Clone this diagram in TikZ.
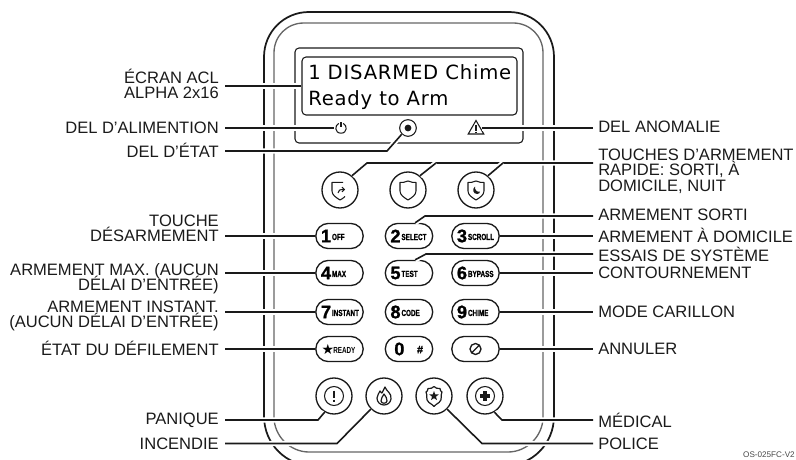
\documentclass[tikz,border=0pt]{standalone}
\usepackage{fontspec}
\setmainfont{Liberation Sans}
\newfontfamily\lcdfont[LetterSpace=4]{DejaVu Sans}
\newfontfamily\symfont{DejaVu Sans}
\newfontfamily\keyb[FakeBold=1.2]{Liberation Sans Bold}
\usetikzlibrary{shapes.geometric,calc}
\definecolor{ink}{HTML}{1A1A1A}
\definecolor{shellgray}{HTML}{666666}
\newcommand{\tightlines}{\lineskiplimit=-20pt\relax}
\tikzset{
 lbl/.style={font=\fontsize{12.4pt}{11.6pt}\selectfont\tightlines,text=ink,inner ysep=0pt},
 lblL/.style={lbl,anchor=east,align=right,inner xsep=4.5pt},
 lblR/.style={lbl,anchor=west,align=left,inner xsep=3.75pt},
 leader/.style={draw=ink,line width=1.2pt,line cap=butt,line join=miter,preaction={draw=white,line width=4pt}},
 keybox/.style={draw=ink,line width=1pt,rounded corners=9.3pt,minimum width=35.5pt,minimum height=18.8pt,inner sep=0pt,fill=white},
 rbtn/.style={draw=ink,line width=1pt,circle,minimum size=27pt,inner sep=0pt,fill=white},
 icon/.style={draw=ink,line width=.8pt,line join=round},
}
\newcommand{\keytxt}[2]{\makebox[33pt][l]{\hspace{2.6pt}\fontsize{13.6pt}{13pt}\keyb\selectfont #1\hspace{.7pt}\raisebox{1.7pt}{\fontsize{6.6pt}{6.6pt}\selectfont\bfseries\scalebox{.72}[1]{#2}}}}
\begin{document}
\begin{tikzpicture}[x=.75pt,y=-.75pt]
\useasboundingbox (0,0) rectangle (796,460);
\begin{scope}
\clip (0,0) rectangle (796,460);
% shells
\draw[ink,line width=1.3pt] (264,57) .. controls (264,32) and (284,12) .. (309,12) -- (509,12) .. controls (534,12) and (554,32) .. (554,57) -- (554,416) .. controls (554,444) and (532,466) .. (504,466) -- (314,466) .. controls (286,466) and (264,444) .. (264,416) -- cycle;
\draw[shellgray,line width=1pt] (274,53) .. controls (274,36) and (287,23) .. (304,23) -- (513,23) .. controls (530,23) and (543,36) .. (543,53) -- (543,417) .. controls (543,436) and (527,452) .. (508,452) -- (309,452) .. controls (290,452) and (274,436) .. (274,417) -- cycle;
\end{scope}
% display
\draw[ink,line width=.8pt,rounded corners=3pt] (295,48) rectangle (523,143);
\node[draw=ink,line width=.8pt,rounded corners=3pt,minimum width=161.25pt,minimum height=43.5pt,inner sep=0pt,fill=white] (lcd) at (409.5,86) {};
\node[anchor=base west,inner sep=0pt,font=\lcdfont\fontsize{14.7pt}{14pt}\selectfont] (lcd1) at (308,79.5) {1 DISARMED Chime};
\node[anchor=base west,inner sep=0pt,font=\lcdfont\fontsize{14.7pt}{14pt}\selectfont] (lcd2) at (308,106) {Ready to Arm};
% LED icons
\begin{scope}[shift={(341,128)}]
 \draw[icon] (-2.2,-4.6) .. controls (-6.5,-3) and (-6.5,5.2) .. (0,5.2) .. controls (6.5,5.2) and (6.5,-3) .. (2.2,-4.6);
 \draw[icon] (0,-6) -- (0,-1);
\end{scope}
\node[draw=ink,circle,line width=.8pt,minimum size=12.5pt,inner sep=0pt] (st) at (408,128) {};
\fill[ink] (408,128) circle[radius=3.4];
\node[draw=ink,line width=.8pt,regular polygon,regular polygon sides=3,minimum size=13.5pt,inner sep=0pt] (wr) at (476,129.5) {};
\draw[ink,line width=1pt] (476,125) -- (476,130.5) (476,131.5) -- (476,133);
% top buttons
\node[rbtn] (t1) at (340,190) {};
\node[rbtn] (t2) at (408,190) {};
\node[rbtn] (t3) at (476,190) {};
\def\shieldpath{(0,-9) .. controls (3,-7.5) and (6,-7.5) .. (8,-7.5) -- (8,1) .. controls (8,5) and (4,7.5) .. (0,10) .. controls (-4,7.5) and (-8,5) .. (-8,1) -- (-8,-7.5) .. controls (-6,-7.5) and (-3,-7.5) .. (0,-9) -- cycle}
\begin{scope}[shift={(340,190)}]
 \draw[icon] (3,-7.6) -- (-8,-7.6) -- (-8,1) .. controls (-8,5) and (-4,7.5) .. (0,10) .. controls (2,9) and (3.5,8) .. (5,6.5);
 \draw[icon] (-2,3) .. controls (-2,0) and (0,-.5) .. (4,-.5);
 \draw[icon] (2,-2.8) -- (4.5,-.5) -- (2,1.8);
\end{scope}
\begin{scope}[shift={(408,190)}]
 \draw[icon] \shieldpath;
\end{scope}
\begin{scope}[shift={(476,190)}]
 \draw[icon] \shieldpath;
 \fill[ink] (-1,-3.5) .. controls (-4,-1) and (-3,4) .. (1,4) .. controls (3,4) and (4,3) .. (4,1.5) .. controls (1,2.5) and (-1.5,0) .. (-1,-3.5) -- cycle;
\end{scope}
% keys
\node[keybox] (k1) at (339.5,236) {\keytxt{1}{OFF}};
\node[keybox] (k2) at (409,236) {\keytxt{2}{SELECT}};
\node[keybox] (k3) at (475.5,236) {\keytxt{3}{SCROLL}};
\node[keybox] (k4) at (339.5,273) {\keytxt{4}{MAX}};
\node[keybox] (k5) at (409,273) {\keytxt{5}{TEST}};
\node[keybox] (k6) at (475.5,273) {\keytxt{6}{BYPASS}};
\node[keybox] (k7) at (339.5,312) {\keytxt{7}{INSTANT}};
\node[keybox] (k8) at (409,312) {\keytxt{8}{CODE}};
\node[keybox] (k9) at (475.5,312) {\keytxt{9}{CHIME}};
\node[keybox] (ks) at (339.5,349) {\makebox[33pt][l]{\hspace{3pt}{\symfont\fontsize{10.5pt}{11pt}\selectfont ★}\hspace{-.6pt}\raisebox{.5pt}{\fontsize{6.6pt}{6.6pt}\selectfont\bfseries\scalebox{.72}[1]{READY}}}};
\node[keybox] (k0) at (409,349) {\makebox[33pt][l]{\hspace{5.5pt}\fontsize{13.6pt}{13pt}\keyb\selectfont 0\hspace{9.5pt}\raisebox{1.5pt}{\fontsize{8pt}{8pt}\selectfont\#}}};
\node[keybox] (kc) at (475.5,349) {};
\draw[ink,line width=1pt] (475.5,349) circle[radius=5.5] (471.5,353) -- (479.5,345);
% bottom buttons
\node[rbtn] (b1) at (334,396) {};
\node[rbtn] (b2) at (384,396) {};
\node[rbtn] (b3) at (434,396) {};
\node[rbtn] (b4) at (485,396) {};
\draw[icon] (334,396) circle[radius=9.5];
\draw[ink,line width=1.7pt] (334,390.5) -- (334,398) (334,399.5) -- (334,402);
\begin{scope}[shift={(384,397)}]
 \draw[icon,line width=.9pt] (1,-10) .. controls (2,-6) and (8,-4) .. (7,2) .. controls (6.5,6) and (3,8) .. (0,8) .. controls (-4,8) and (-7,5) .. (-7,1) .. controls (-7,-2) and (-5,-3) .. (-4,-6) .. controls (-3,-4) and (-2,-4) .. (-2,-4) .. controls (-1,-6) and (0,-8) .. (1,-10) -- cycle;
 \draw[icon,line width=.9pt] (0,-3) .. controls (1,0) and (4,1) .. (3,4) .. controls (2.5,7) and (-2.5,7) .. (-3,4) .. controls (-3.5,1) and (-1,0) .. (0,-3) -- cycle;
\end{scope}
\begin{scope}[shift={(434,395.5)}]
 \draw[icon,line width=.9pt] (-6,-7) .. controls (-3,-6) and (-2,-8) .. (0,-9) .. controls (2,-8) and (3,-6) .. (6,-7) .. controls (6,-5) and (7,-4) .. (8,-3.5) .. controls (6,0) and (9,4) .. (5,7) .. controls (3,9) and (1,9) .. (0,11) .. controls (-1,9) and (-3,9) .. (-5,7) .. controls (-9,4) and (-6,0) .. (-8,-3.5) .. controls (-7,-4) and (-6,-5) .. (-6,-7) -- cycle;
 \node[fill=ink,star,star points=5,star point ratio=2.4,minimum size=7.5pt,inner sep=0pt] (bstar) at (0,0.5) {};
\end{scope}
\draw[icon] (485,396) circle[radius=9.5];
\draw[ink,line width=2.6pt] (480,396) -- (490,396) (485,391) -- (485,401);
% labels left
\node[lblL] (lecran) at (225,84) {ÉCRAN ACL\\ALPHA 2x16};
\node[lblL] (lalim) at (225,128) {DEL D’ALIMENTION};
\node[lblL] (letat) at (225,150) {DEL D’ÉTAT};
\node[lblL] (ldes) at (225,228.5) {TOUCHE\\DÉSARMEMENT};
\node[lblL] (lmax) at (225,278.5) {ARMEMENT MAX. (AUCUN\\DÉLAI D’ENTRÉE)};
\node[lblL] (linst) at (225,316) {ARMEMENT INSTANT.\\(AUCUN DÉLAI D’ENTRÉE)};
\node[lblL] (ldef) at (225,348) {ÉTAT DU DÉFILEMENT};
\node[lblL] (lpan) at (225,420) {PANIQUE};
\node[lblL] (linc) at (225,444) {INCENDIE};
% labels right
\node[lblR] (ranom) at (593,127) {DEL ANOMALIE};
\node[lblR] (rtou) at (593,171) {TOUCHES D’ARMEMENT\\RAPIDE: SORTI, À\\DOMICILE, NUIT};
\node[lblR] (rsor) at (593,215) {ARMEMENT SORTI};
\node[lblR] (rdom) at (593,235) {ARMEMENT À DOMICILE};
\node[lblR] (ress) at (593,254) {ESSAIS DE SYSTÈME};
\node[lblR] (rcon) at (593,273) {CONTOURNEMENT};
\node[lblR] (rcar) at (593,312) {MODE CARILLON};
\node[lblR] (rann) at (593,349) {ANNULER};
\node[lblR] (rmed) at (593,420) {MÉDICAL};
\node[lblR] (rpol) at (593,444) {POLICE};
\node[anchor=east,inner sep=0pt,font=\fontsize{6.1pt}{6pt}\selectfont,text=ink!80] (ref) at (795,455) {OS-025FC-V2};
% coordinates
\coordinate (cst) at (387,151);
\coordinate (ct) at (367,163);
\coordinate (ct2) at (436,163);
\coordinate (ct3) at (503,163);
\coordinate (c2) at (425,216);
\coordinate (c5) at (426,254);
\coordinate (cp) at (318,420);
\coordinate (ci) at (337,443.5);
\coordinate (cpo) at (482,443.5);
\coordinate (cm) at (502,420);
% leaders
\draw[leader] (lecran.east |- lcd.west) -- (lcd.west);
\draw[leader] (lalim.east) -- (334,128);
\draw[leader] (letat.east |- cst) -- (cst) -- (st.225);
\draw[leader] (wr.east |- 0,128) -- (ranom.west |- 0,128);
\draw[leader] (t1.50) -- (ct) -- (ct -| rtou.west);
\draw[leader] (t2.50) -- (ct2);
\draw[leader] (t3.50) -- (ct3);
\draw[leader] (k1.west) -- (k1.west -| ldes.east);
\draw[leader] (k4.west) -- (k4.west -| lmax.east);
\draw[leader] (k7.west) -- (k7.west -| linst.east);
\draw[leader] (ks.west) -- (ks.west -| ldef.east);
\draw[leader] (k2.65) -- (c2) -- (c2 -| rsor.west);
\draw[leader] (k3.east) -- (k3.east -| rdom.west);
\draw[leader] (k5.65) -- (c5) -- (c5 -| ress.west);
\draw[leader] (k6.east) -- (rcon.west);
\draw[leader] (k9.east) -- (rcar.west);
\draw[leader] (kc.east) -- (rann.west);
\draw[leader] (lpan.east) -- (cp) -- (b1.240);
\draw[leader] (linc.east |- ci) -- (ci) -- (b2.225);
\draw[leader] (rpol.west |- cpo) -- (cpo) -- (b3.315);
\draw[leader] (rmed.west) -- (cm) -- (b4.300);
\end{tikzpicture}
\end{document}
